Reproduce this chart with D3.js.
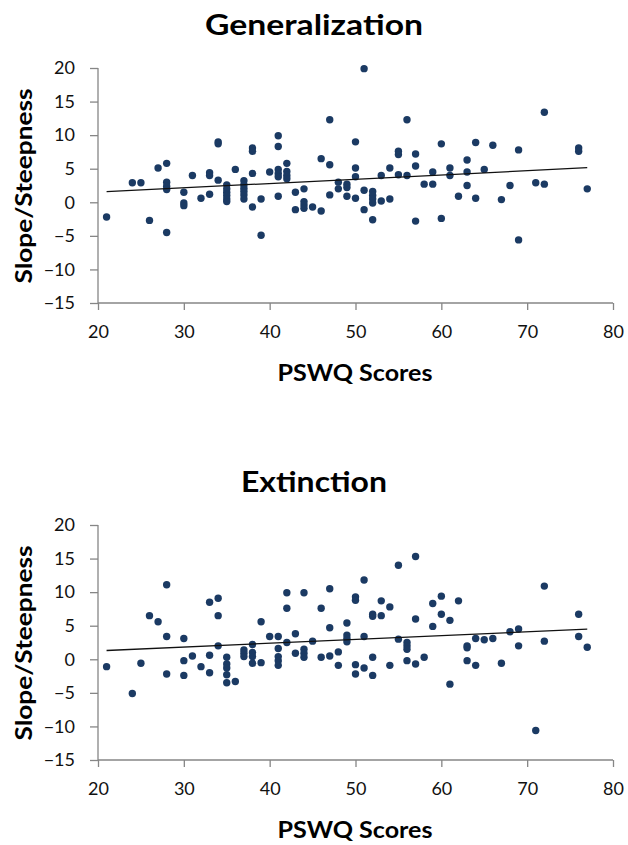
<!DOCTYPE html>
<html>
<head>
<meta charset="utf-8">
<script src="https://cdn.jsdelivr.net/npm/d3@7"></script>
<style>
  body { margin: 0; background: #fff; }
  text { font-family: Lato, "Open Sans", sans-serif; }
</style>
</head>
<body>
<div id="container"></div>
<script>
// PSWQ score / slope pairs
let genPSWQ = [21,24,25,26,27,28,28,28,28,28,30,30,30,31,32,33,33,33,34,34,34,35,35,35,35,35,35,36,37,37,37,37,37,37,38,38,38,38,39,39,40,41,41,41,41,41,41,42,42,42,42,43,43,44,44,44,44,45,46,46,47,47,47,48,48,49,49,49,50,50,50,50,51,51,51,52,52,52,52,52,53,53,54,54,55,55,55,56,56,57,57,57,58,59,59,60,60,61,61,62,63,63,63,64,64,65,66,67,68,69,69,71,72,72,76,76,77];
let genSlope = [-2.2,2.9,2.9,-2.7,5.1,5.8,3.0,2.4,1.9,-4.5,1.5,-0.1,-0.5,4.0,0.6,4.4,4.0,1.2,9.0,8.7,3.3,2.6,2.0,1.5,1.0,0.5,0.1,4.9,3.2,2.6,2.1,1.6,1.1,0.5,8.1,7.6,4.3,-0.7,0.5,-4.9,4.5,9.9,8.3,4.9,4.3,3.8,0.9,5.8,4.6,4.0,3.5,1.5,-1.1,2.0,0.1,-0.4,-0.9,-0.7,6.5,-1.3,12.3,5.6,1.1,3.0,2.0,2.7,2.2,0.9,9.0,5.1,3.8,0.6,19.9,1.8,-1.1,1.6,1.0,0.5,-0.1,-2.6,4.0,0.2,5.1,0.5,7.6,7.1,4.1,12.3,4.0,7.2,5.4,-2.8,2.7,4.5,2.7,8.7,-2.4,5.1,4.0,0.9,6.3,4.5,2.5,8.9,0.6,4.9,8.5,0.4,2.5,7.8,-5.6,2.9,13.4,2.7,8.1,7.6,2.0];

let extPSWQ = [21,24,25,26,27,28,28,28,30,30,30,31,32,33,33,33,34,34,34,35,35,35,35,35,36,37,37,37,38,38,38,38,39,39,40,41,41,41,41,41,42,42,42,43,43,44,44,44,44,45,46,46,47,47,47,48,48,49,49,49,49,50,50,50,50,51,51,51,52,52,52,52,53,53,54,54,55,55,56,56,56,56,57,57,57,58,59,59,60,60,61,61,62,63,63,63,64,64,65,66,67,68,69,69,71,72,72,76,76,77];
let extSlope = [-1.1,-5.1,-0.6,6.5,5.6,11.1,3.4,-2.2,3.1,-0.2,-2.4,0.5,-1.1,8.5,0.6,-2.0,9.1,6.5,2.0,0.3,-0.7,-1.3,-2.3,-3.5,-3.3,1.4,0.9,0.4,2.2,1.0,0.4,-0.6,5.6,-0.5,3.4,3.4,1.6,0.4,-0.2,-0.9,9.9,7.6,2.5,3.8,0.9,9.9,1.5,0.9,0.3,2.7,7.6,0.3,10.5,4.7,0.5,1.1,-0.9,5.4,3.6,3.1,2.6,9.3,8.8,-0.8,-2.2,11.8,3.4,-1.3,6.7,6.4,0.3,-2.4,8.7,6.5,7.8,-0.9,14.0,3.0,2.5,2.0,1.5,-0.2,15.3,6.0,-0.7,0.3,8.3,4.9,9.4,6.7,5.8,-3.7,8.7,2.0,1.7,-0.2,3.1,-0.9,2.9,3.1,-0.6,4.1,4.5,2.0,-10.6,10.9,2.7,6.7,3.4,1.8];

let xTicks = [20, 30, 40, 50, 60, 70, 80];
let yTicks = [-15, -10, -5, 0, 5, 10, 15, 20];

let w = 628;
let h = 845;
let axisColor = "#868686";
let dotColor = "#1b3a63";

let viz = d3.select("#container")
  .append("svg")
    .attr("width", w)
    .attr("height", h)
;

let xScale = d3.scaleLinear().domain([20, 80]).range([98, 613]);

function drawChart(title, titleWidth, xs, ys, top){
  // top = pixel y of the value 20 on the y axis
  let yScale = d3.scaleLinear().domain([-15, 20]).range([top + 235, top]);
  let g = viz.append("g");

  g.append("text")
    .attr("x", 314)
    .attr("y", top - 33)
    .attr("text-anchor", "middle")
    .attr("textLength", titleWidth)
    .attr("lengthAdjust", "spacingAndGlyphs")
    .style("font-size", "29px")
    .style("font-weight", "bold")
    .text(title);

  let yAxis = d3.axisLeft(yScale).tickValues(yTicks).tickSize(8).tickPadding(15);
  let yAxisGroup = g.append("g")
    .attr("transform", "translate(" + xScale(20) + ",0)")
    .call(yAxis);

  let xAxis = d3.axisBottom(xScale).tickValues(xTicks).tickSize(7).tickPadding(15);
  let xAxisGroup = g.append("g")
    .attr("transform", "translate(0," + yScale(-15) + ")")
    .call(xAxis);

  [yAxisGroup, xAxisGroup].forEach(function(ag){
    ag.select(".domain").attr("stroke", axisColor).attr("stroke-width", 1.3);
    ag.selectAll(".tick line").attr("stroke", axisColor).attr("stroke-width", 1.3);
    ag.selectAll(".tick text")
      .attr("fill", "#111")
      .style("font-size", "18px")
      .style("font-family", "Lato, sans-serif");
  });
  xAxisGroup.select(".domain").attr("d", "M" + xScale(20) + ",0H" + xScale(80));
  yAxisGroup.select(".domain").attr("d", "M0," + yScale(20) + "V" + yScale(-15));

  g.append("text")
    .attr("transform", "translate(32," + (top + 118) + ") rotate(-90)")
    .attr("text-anchor", "middle")
    .attr("textLength", 195)
    .attr("lengthAdjust", "spacingAndGlyphs")
    .style("font-size", "23px")
    .style("font-weight", "bold")
    .text("Slope/Steepness");

  g.append("text")
    .attr("x", 355)
    .attr("y", yScale(-15) + 78)
    .attr("text-anchor", "middle")
    .attr("textLength", 155)
    .attr("lengthAdjust", "spacingAndGlyphs")
    .style("font-size", "23px")
    .style("font-weight", "bold")
    .text("PSWQ Scores");

  let pts = xs.map(function(d, i){ return {x: d, y: ys[i]}; });

  // least squares trend line
  let mx = d3.mean(pts, function(d){ return d.x; });
  let my = d3.mean(pts, function(d){ return d.y; });
  let sxy = d3.sum(pts, function(d){ return (d.x - mx) * (d.y - my); });
  let sxx = d3.sum(pts, function(d){ return (d.x - mx) * (d.x - mx); });
  let slope = sxy / sxx;
  let icpt = my - slope * mx;
  let ext = d3.extent(pts, function(d){ return d.x; });
  let trend = ext.map(function(x){ return {x: x, y: icpt + slope * x}; });

  g.selectAll(".dot").data(pts).enter()
    .append("circle")
      .attr("class", "dot")
      .attr("cx", function(d){ return xScale(d.x); })
      .attr("cy", function(d){ return yScale(d.y); })
      .attr("r", 3.7)
      .attr("fill", dotColor)
  ;

  let lineMaker = d3.line()
    .x(function(d){ return xScale(d.x); })
    .y(function(d){ return yScale(d.y); });

  g.append("path")
    .datum(trend)
    .attr("d", lineMaker)
    .attr("fill", "none")
    .attr("stroke", "#111")
    .attr("stroke-width", 1.3);
}

drawChart("Generalization", 218, genPSWQ, genSlope, 68);
drawChart("Extinction", 146, extPSWQ, extSlope, 525);
</script>
</body>
</html>
